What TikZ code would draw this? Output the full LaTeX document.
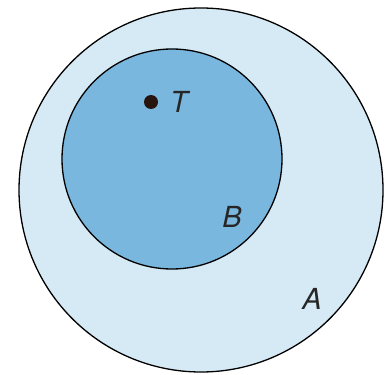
\documentclass[tikz,border=0pt]{standalone}
\usepackage{fontspec}
\setmainfont{TeX Gyre Heros}
\definecolor{outerblue}{RGB}{214,234,245}
\definecolor{innerblue}{RGB}{122,183,222}
\definecolor{dotcol}{RGB}{40,20,15}
\begin{document}
\begin{tikzpicture}[x=1pt,y=-1pt,
  region/.style={draw=black, line width=1.3pt},
  lbl/.style={font=\fontsize{29}{29}\selectfont\itshape, text=black!85, inner sep=0pt}]
\useasboundingbox (0,0) rectangle (387,374);
\fill[white] (0,0) rectangle (387,374);
\node[region, circle, fill=outerblue, minimum size=364pt, inner sep=0pt] (A) at (201,190) {};
\node[region, circle, fill=innerblue, minimum size=220pt, inner sep=0pt] (B) at (172,159) {};
\node[circle, fill=dotcol, minimum size=14pt, inner sep=0pt] (dot) at (151,102) {};
\node[lbl] (T) at (179,102) {T};
\node[lbl] (Blbl) at (232,217) {B};
\node[lbl] (Albl) at (312,299) {A};
\end{tikzpicture}
\end{document}
